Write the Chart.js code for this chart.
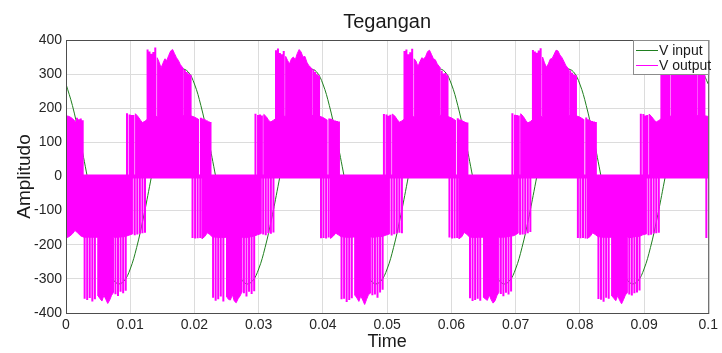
<!DOCTYPE html>
<html>
<head>
<meta charset="utf-8">
<title>Tegangan</title>
<script src="https://cdn.jsdelivr.net/npm/chart.js@4.4.1/dist/chart.umd.min.js"></script>
<style>
  html, body { margin: 0; padding: 0; background: #fff; }
  #wrap { width: 722px; height: 353px; }
</style>
</head>
<body>
<div id="wrap"><canvas id="tegangan" width="722" height="353"></canvas></div>
<script>
// ==========================
// DATA
// ==========================
const xTicks = [0, 0.01, 0.02, 0.03, 0.04, 0.05, 0.06, 0.07, 0.08, 0.09, 0.1];
const xTickLabels = ['0', '0.01', '0.02', '0.03', '0.04', '0.05', '0.06', '0.07', '0.08', '0.09', '0.1'];
const yTicks = [-400, -300, -200, -100, 0, 100, 200, 300, 400];

// V input, one sample per ms
const inputT = [
  0, 0.001, 0.002, 0.003, 0.004, 0.005, 0.006, 0.007, 0.008, 0.009,
  0.010, 0.011, 0.012, 0.013, 0.014, 0.015, 0.016, 0.017, 0.018, 0.019,
  0.020, 0.021, 0.022, 0.023, 0.024, 0.025, 0.026, 0.027, 0.028, 0.029,
  0.030, 0.031, 0.032, 0.033, 0.034, 0.035, 0.036, 0.037, 0.038, 0.039,
  0.040, 0.041, 0.042, 0.043, 0.044, 0.045, 0.046, 0.047, 0.048, 0.049,
  0.050, 0.051, 0.052, 0.053, 0.054, 0.055, 0.056, 0.057, 0.058, 0.059,
  0.060, 0.061, 0.062, 0.063, 0.064, 0.065, 0.066, 0.067, 0.068, 0.069,
  0.070, 0.071, 0.072, 0.073, 0.074, 0.075, 0.076, 0.077, 0.078, 0.079,
  0.080, 0.081, 0.082, 0.083, 0.084, 0.085, 0.086, 0.087, 0.088, 0.089,
  0.090, 0.091, 0.092, 0.093, 0.094, 0.095, 0.096, 0.097, 0.098, 0.099,
  0.100
];
const inputV = [
  271, 208, 125, 30, -69, -160, -236, -289, -314, -307, -271, -208, -125, -30, 69, 160, 236, 289, 314, 307,
  271, 208, 125, 30, -69, -160, -236, -289, -314, -307, -271, -208, -125, -30, 69, 160, 236, 289, 314, 307,
  271, 208, 125, 30, -69, -160, -236, -289, -314, -307, -271, -208, -125, -30, 69, 160, 236, 289, 314, 307,
  271, 208, 125, 30, -69, -160, -236, -289, -314, -307, -271, -208, -125, -30, 69, 160, 236, 289, 314, 307,
  271, 208, 125, 30, -69, -160, -236, -289, -314, -307, -271, -208, -125, -30, 69, 160, 236, 289, 314, 307,
  271
];

// V output: solid part of the positive switching band (upper edge)
const outPosT = [
  0, 0.0005, 0.0010, 0.0015, 0.0015,
  0.0108, 0.0108, 0.0112, 0.0116, 0.0119, 0.0123, 0.0128, 0.0135, 0.0142, 0.0142, 0.0145, 0.0148, 0.0151, 0.0154, 0.0157,
  0.0160, 0.0163, 0.0166, 0.0169, 0.0172, 0.0175, 0.0178, 0.0182, 0.0182, 0.0188, 0.0194, 0.0200, 0.0206, 0.0206,
  0.0308, 0.0308, 0.0312, 0.0316, 0.0319, 0.0323, 0.0328, 0.0335, 0.0342, 0.0342, 0.0345, 0.0348, 0.0351, 0.0354, 0.0357,
  0.0360, 0.0363, 0.0366, 0.0369, 0.0372, 0.0375, 0.0378, 0.0382, 0.0382, 0.0388, 0.0394, 0.0400, 0.0406, 0.0406,
  0.0508, 0.0508, 0.0512, 0.0516, 0.0519, 0.0523, 0.0528, 0.0535, 0.0542, 0.0542, 0.0545, 0.0548, 0.0551, 0.0554, 0.0557,
  0.0560, 0.0563, 0.0566, 0.0569, 0.0572, 0.0575, 0.0578, 0.0582, 0.0582, 0.0588, 0.0594, 0.0600, 0.0606, 0.0606,
  0.0708, 0.0708, 0.0712, 0.0716, 0.0719, 0.0723, 0.0728, 0.0735, 0.0742, 0.0742, 0.0745, 0.0748, 0.0751, 0.0754, 0.0757,
  0.0760, 0.0763, 0.0766, 0.0769, 0.0772, 0.0775, 0.0778, 0.0782, 0.0782, 0.0788, 0.0794, 0.0800, 0.0806, 0.0806,
  0.0908, 0.0908, 0.0912, 0.0916, 0.0919, 0.0923, 0.0928, 0.0935, 0.0942, 0.0942, 0.0945, 0.0948, 0.0951, 0.0954, 0.0957,
  0.0960, 0.0963, 0.0966, 0.0969, 0.0972, 0.0975, 0.0978, 0.0982, 0.0982, 0.0988, 0.0994, 0.1000
];
const outPosV = [
  178, 176, 170, 160, 0,
  0, 184, 176, 165, 158, 162, 170, 174, 176, 348, 335, 318, 332, 345, 340,
  355, 368, 372, 360, 348, 340, 328, 318, 178, 180, 178, 174, 168, 0,
  0, 182, 175, 163, 160, 165, 171, 175, 177, 352, 340, 330, 345, 350, 342,
  360, 372, 365, 350, 352, 335, 325, 318, 178, 181, 177, 173, 166, 0,
  0, 183, 177, 166, 159, 163, 170, 176, 175, 345, 338, 322, 336, 348, 344,
  352, 366, 370, 358, 345, 342, 330, 320, 179, 180, 176, 172, 165, 0,
  0, 184, 176, 164, 157, 161, 169, 174, 176, 350, 333, 320, 330, 344, 346,
  358, 370, 368, 356, 349, 338, 326, 316, 178, 179, 178, 174, 167, 0,
  0, 183, 175, 165, 160, 164, 171, 175, 177, 346, 336, 321, 334, 347, 341,
  356, 369, 371, 359, 347, 339, 327, 319, 178, 180, 178, 176
];

// V output: solid part of the negative switching band (lower edge)
const outNegT = [
  0, 0.0005, 0.0010, 0.0014, 0.0018, 0.0023, 0.0028, 0.0035, 0.0042, 0.0050, 0.0050, 0.0053, 0.0056, 0.0059, 0.0062,
  0.0065, 0.0068, 0.0071, 0.0074, 0.0074, 0.0080, 0.0086, 0.0092, 0.0098, 0.0104, 0.0104,
  0.0212, 0.0212, 0.0216, 0.0220, 0.0224, 0.0228, 0.0235, 0.0242, 0.0250, 0.0250, 0.0253, 0.0256, 0.0259, 0.0262,
  0.0265, 0.0268, 0.0271, 0.0274, 0.0274, 0.0280, 0.0286, 0.0292, 0.0298, 0.0304, 0.0304,
  0.0412, 0.0412, 0.0416, 0.0420, 0.0424, 0.0428, 0.0435, 0.0442, 0.0450, 0.0450, 0.0453, 0.0456, 0.0459, 0.0462,
  0.0465, 0.0468, 0.0471, 0.0474, 0.0474, 0.0480, 0.0486, 0.0492, 0.0498, 0.0504, 0.0504,
  0.0612, 0.0612, 0.0616, 0.0620, 0.0624, 0.0628, 0.0635, 0.0642, 0.0650, 0.0650, 0.0653, 0.0656, 0.0659, 0.0662,
  0.0665, 0.0668, 0.0671, 0.0674, 0.0674, 0.0680, 0.0686, 0.0692, 0.0698, 0.0704, 0.0704,
  0.0812, 0.0812, 0.0816, 0.0820, 0.0824, 0.0828, 0.0835, 0.0842, 0.0850, 0.0850, 0.0853, 0.0856, 0.0859, 0.0862,
  0.0865, 0.0868, 0.0871, 0.0874, 0.0874, 0.0880, 0.0886, 0.0892, 0.0898, 0.0904, 0.0904
];
const outNegV = [
  -180, -176, -168, -158, -165, -174, -178, -178, -178, -178, -350, -358, -365, -348, -360,
  -372, -362, -348, -340, -178, -178, -177, -176, -172, -168, 0,
  0, -182, -176, -165, -170, -177, -178, -179, -178, -352, -360, -362, -346, -365,
  -370, -358, -350, -338, -178, -179, -177, -175, -171, -167, 0,
  0, -181, -175, -166, -171, -176, -178, -178, -177, -348, -356, -366, -350, -362,
  -375, -360, -346, -342, -177, -178, -176, -176, -172, -168, 0,
  0, -182, -177, -164, -169, -177, -179, -178, -178, -354, -359, -363, -347, -361,
  -371, -364, -349, -339, -178, -178, -177, -175, -173, -166, 0,
  0, -181, -176, -165, -170, -176, -178, -178, -178, -350, -357, -364, -349, -363,
  -373, -361, -347, -341, -178, -179, -176, -176, -171, -168, 0
];

// V output: isolated switching pulses at the band edges (drawn from 0 to the value)
const spikeT = [
  0.0017, 0.0020, 0.0023, 0.0026,
  0.0029, 0.0033, 0.0037, 0.0041, 0.0045, 0.0077, 0.0081, 0.0085, 0.0089, 0.0093, 0.0095, 0.0099, 0.0102, 0.0105,
  0.0107, 0.0111, 0.0115, 0.0119, 0.0123, 0.0127, 0.0130, 0.0133, 0.0136, 0.0139, 0.0185, 0.0188, 0.0191, 0.0194,
  0.0197, 0.0201, 0.0205, 0.0209, 0.0210, 0.0213, 0.0216, 0.0219, 0.0222, 0.0225,
  0.0229, 0.0233, 0.0237, 0.0241, 0.0245, 0.0277, 0.0281, 0.0285, 0.0289, 0.0293, 0.0295, 0.0299, 0.0302, 0.0305,
  0.0307, 0.0311, 0.0315, 0.0319, 0.0323, 0.0327, 0.0330, 0.0333, 0.0336, 0.0339, 0.0385, 0.0388, 0.0391, 0.0394,
  0.0397, 0.0401, 0.0405, 0.0409, 0.0410, 0.0413, 0.0416, 0.0419, 0.0422, 0.0425,
  0.0429, 0.0433, 0.0437, 0.0441, 0.0445, 0.0477, 0.0481, 0.0485, 0.0489, 0.0493, 0.0495, 0.0499, 0.0502, 0.0505,
  0.0507, 0.0511, 0.0515, 0.0519, 0.0523, 0.0527, 0.0530, 0.0533, 0.0536, 0.0539, 0.0585, 0.0588, 0.0591, 0.0594,
  0.0597, 0.0601, 0.0605, 0.0609, 0.0610, 0.0613, 0.0616, 0.0619, 0.0622, 0.0625,
  0.0629, 0.0633, 0.0637, 0.0641, 0.0645, 0.0677, 0.0681, 0.0685, 0.0689, 0.0693, 0.0695, 0.0699, 0.0702, 0.0705,
  0.0707, 0.0711, 0.0715, 0.0719, 0.0723, 0.0727, 0.0730, 0.0733, 0.0736, 0.0739, 0.0785, 0.0788, 0.0791, 0.0794,
  0.0797, 0.0801, 0.0805, 0.0809, 0.0810, 0.0813, 0.0816, 0.0819, 0.0822, 0.0825,
  0.0829, 0.0833, 0.0837, 0.0841, 0.0845, 0.0877, 0.0881, 0.0885, 0.0889, 0.0893, 0.0895, 0.0899, 0.0902, 0.0905,
  0.0907, 0.0911, 0.0915, 0.0919, 0.0923, 0.0927, 0.0930, 0.0933, 0.0936, 0.0939, 0.0985, 0.0988, 0.0991, 0.0994,
  0.0997
];
const spikeV = [
  172, 168, 170, 165,
  -358, -362, -356, -366, -360, -345, -350, -338, -342, -335, 185, 182, 180, 180,
  -172, -170, -168, -166, -165, 372, 366, 360, 365, 378, 312, 306, 302, 298,
  -180, -182, -181, -180, 172, 170, 168, 165, 162, 160,
  -355, -364, -360, -352, -366, -342, -352, -338, -344, -336, 184, 180, 182, 179,
  -170, -172, -166, -168, -164, 370, 375, 362, 358, 368, 314, 306, 300, 296,
  -181, -180, -182, -179, 170, 169, 166, 164, 163, 161,
  -360, -358, -368, -362, -357, -348, -346, -355, -340, -332, 183, 182, 178, 181,
  -173, -169, -167, -165, -166, 368, 372, 358, 364, 374, 310, 302, 303, 297,
  -179, -182, -181, -180, 171, 167, 166, 163, 160, 158,
  -357, -365, -362, -358, -364, -344, -351, -341, -346, -337, 185, 181, 180, 179,
  -171, -170, -169, -166, -163, 371, 366, 363, 369, 376, 311, 304, 299, 297,
  -180, -181, -180, -182, 173, 168, 165, 163, 161, 160,
  -359, -361, -367, -355, -358, -346, -349, -342, -340, -334, 184, 183, 179, 180,
  -172, -171, -167, -166, -165, 373, 364, 361, 367, 377, 309, 306, 301, 298,
  -180
];

// ==========================
// HELPERS
// ==========================
const FONT = '"Liberation Sans", Arial, Helvetica, sans-serif';
const MAGENTA = '#ff00ff';
const GREEN = '#1f7f1f';

function toPoints(ts, vs) {
  return ts.map((t, i) => ({ x: t, y: vs[i] }));
}

function spikePoints() {
  const pts = [];
  spikeT.forEach((t, i) => {
    pts.push({ x: t, y: 0 }, { x: t, y: spikeV[i] }, { x: t, y: null });
  });
  return pts;
}

// ==========================
// TITLE, BOX AND LEGEND
// ==========================
const frame = {
  id: 'frame',
  afterDatasetsDraw(chart) {
    const { ctx, chartArea: a } = chart;
    ctx.save();
    ctx.strokeStyle = '#4d4d4d';
    ctx.lineWidth = 1;
    ctx.strokeRect(a.left + 0.5, a.top + 0.5, a.right - a.left, a.bottom - a.top);

    // title
    ctx.fillStyle = '#1a1a1a';
    ctx.font = '20px ' + FONT;
    ctx.textAlign = 'center';
    ctx.textBaseline = 'middle';
    ctx.fillText('Tegangan', (a.left + a.right) / 2, 22);

    // legend
    const lx = 633, ly = a.top, lw = a.right - lx, lh = 34;
    ctx.fillStyle = '#ffffff';
    ctx.fillRect(lx, ly, lw, lh);
    ctx.strokeStyle = '#8c8c8c';
    ctx.strokeRect(lx + 0.5, ly + 0.5, lw, lh);
    const items = [['V input', GREEN], ['V output', MAGENTA]];
    ctx.font = '14px ' + FONT;
    ctx.textAlign = 'left';
    items.forEach(([label, color], i) => {
      const y = ly + 10 + i * 15;
      ctx.strokeStyle = color;
      ctx.beginPath();
      ctx.moveTo(lx + 3, y + 0.5);
      ctx.lineTo(lx + 25, y + 0.5);
      ctx.stroke();
      ctx.fillStyle = '#1a1a1a';
      ctx.fillText(label, lx + 26, y + 1);
    });
    ctx.restore();
  }
};

// ==========================
// CHART
// ==========================
const ctx = document.getElementById('tegangan').getContext('2d');

new Chart(ctx, {
  type: 'line',
  data: {
    datasets: [
      {
        label: 'V output',
        data: toPoints(outPosT, outPosV),
        borderColor: MAGENTA,
        backgroundColor: MAGENTA,
        borderWidth: 1,
        fill: 'origin',
        pointRadius: 0,
        tension: 0,
        order: 1,
      },
      {
        label: 'V output (neg)',
        data: toPoints(outNegT, outNegV),
        borderColor: MAGENTA,
        backgroundColor: MAGENTA,
        borderWidth: 1,
        fill: 'origin',
        pointRadius: 0,
        tension: 0,
        order: 1,
      },
      {
        label: 'V output (pulses)',
        data: spikePoints(),
        borderColor: MAGENTA,
        borderWidth: 2,
        fill: false,
        spanGaps: false,
        pointRadius: 0,
        tension: 0,
        order: 1,
      },
      {
        label: 'V output (zero)',
        data: [{ x: 0, y: 0 }, { x: 0.1, y: 0 }],
        borderColor: MAGENTA,
        borderWidth: 4,
        fill: false,
        pointRadius: 0,
        order: 1,
      },
      {
        label: 'V input',
        data: toPoints(inputT, inputV),
        borderColor: GREEN,
        borderWidth: 1,
        fill: false,
        pointRadius: 0,
        tension: 0.4,
        order: 5,
      },
    ]
  },
  options: {
    responsive: false,
    animation: false,
    events: [],
    layout: { padding: { left: 0, right: 9, top: 40, bottom: 0 } },
    plugins: {
      legend: { display: false },
      tooltip: { enabled: false },
      title: { display: false },
    },
    scales: {
      x: {
        type: 'linear',
        min: 0,
        max: 0.1,
        afterBuildTicks: (scale) => { scale.ticks = xTicks.map(v => ({ value: v })); },
        afterFit: (scale) => { scale.height = 40; },
        border: { display: false },
        grid: { color: '#dcdcdc', drawTicks: false },
        ticks: {
          color: '#262626',
          font: { family: FONT, size: 14 },
          padding: 4,
          maxRotation: 0,
          autoSkip: false,
          callback: (v, i) => xTickLabels[i],
        },
        title: {
          display: true,
          text: 'Time',
          color: '#1a1a1a',
          font: { family: FONT, size: 18 },
          padding: { top: 0, bottom: 0 },
        },
      },
      y: {
        min: -400,
        max: 400,
        afterBuildTicks: (scale) => { scale.ticks = yTicks.map(v => ({ value: v })); },
        afterFit: (scale) => { scale.width = 66; },
        border: { display: false },
        grid: { color: '#dcdcdc', drawTicks: false },
        ticks: {
          color: '#262626',
          font: { family: FONT, size: 14 },
          padding: 4,
          autoSkip: false,
        },
        title: {
          display: true,
          text: 'Amplitudo',
          color: '#1a1a1a',
          font: { family: FONT, size: 19 },
          padding: { top: 13, bottom: 0 },
        },
      }
    }
  },
  plugins: [frame]
});
</script>
</body>
</html>
